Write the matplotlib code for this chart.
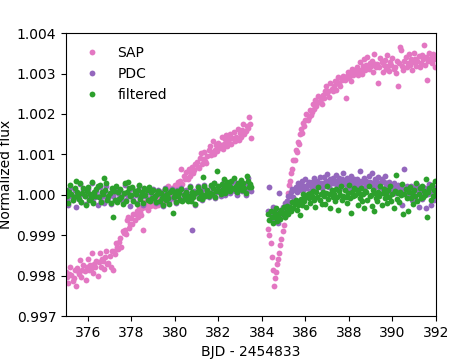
## Light curve: SAP vs PDC vs filtered flux around a data gap
import numpy as np
import matplotlib
matplotlib.use("Agg")
import matplotlib.pyplot as plt

## -----------------------
## Time stamps (BJD - 2454833), before and after the gap
bjd_a = [375.00, 375.05, 375.10, 375.15, 375.20, 375.25, 375.30, 375.35, 375.40, 375.45,
         375.50, 375.55, 375.60, 375.65, 375.70, 375.75, 375.80, 375.85, 375.90, 375.95,
         376.00, 376.05, 376.10, 376.15, 376.20, 376.25, 376.30, 376.35, 376.40, 376.45,
         376.50, 376.55, 376.60, 376.65, 376.70, 376.75, 376.80, 376.85, 376.90, 376.95,
         377.00, 377.05, 377.10, 377.15, 377.20, 377.25, 377.30, 377.35, 377.40, 377.45,
         377.50, 377.55, 377.60, 377.65, 377.70, 377.75, 377.80, 377.85, 377.90, 377.95,
         378.00, 378.05, 378.10, 378.15, 378.20, 378.25, 378.30, 378.35, 378.40, 378.45,
         378.50, 378.55, 378.60, 378.65, 378.70, 378.75, 378.80, 378.85, 378.90, 378.95,
         379.00, 379.05, 379.10, 379.15, 379.20, 379.25, 379.30, 379.35, 379.40, 379.45,
         379.50, 379.55, 379.60, 379.65, 379.70, 379.75, 379.80, 379.85, 379.90, 379.95,
         380.00, 380.05, 380.10, 380.15, 380.20, 380.25, 380.30, 380.35, 380.40, 380.45,
         380.50, 380.55, 380.60, 380.65, 380.70, 380.75, 380.80, 380.85, 380.90, 380.95,
         381.00, 381.05, 381.10, 381.15, 381.20, 381.25, 381.30, 381.35, 381.40, 381.45,
         381.50, 381.55, 381.60, 381.65, 381.70, 381.75, 381.80, 381.85, 381.90, 381.95,
         382.00, 382.05, 382.10, 382.15, 382.20, 382.25, 382.30, 382.35, 382.40, 382.45,
         382.50, 382.55, 382.60, 382.65, 382.70, 382.75, 382.80, 382.85, 382.90, 382.95,
         383.00, 383.05, 383.10, 383.15, 383.20, 383.25, 383.30, 383.35, 383.40, 383.45,
         383.50]
bjd_b = [384.30, 384.35, 384.40, 384.45, 384.50, 384.55, 384.60, 384.65, 384.70, 384.75,
         384.80, 384.85, 384.90, 384.95, 385.00, 385.05, 385.10, 385.15, 385.20, 385.25,
         385.30, 385.35, 385.40, 385.45, 385.50, 385.55, 385.60, 385.65, 385.70, 385.75,
         385.80, 385.85, 385.90, 385.95, 386.00, 386.05, 386.10, 386.15, 386.20, 386.25,
         386.30, 386.35, 386.40, 386.45, 386.50, 386.55, 386.60, 386.65, 386.70, 386.75,
         386.80, 386.85, 386.90, 386.95, 387.00, 387.05, 387.10, 387.15, 387.20, 387.25,
         387.30, 387.35, 387.40, 387.45, 387.50, 387.55, 387.60, 387.65, 387.70, 387.75,
         387.80, 387.85, 387.90, 387.95, 388.00, 388.05, 388.10, 388.15, 388.20, 388.25,
         388.30, 388.35, 388.40, 388.45, 388.50, 388.55, 388.60, 388.65, 388.70, 388.75,
         388.80, 388.85, 388.90, 388.95, 389.00, 389.05, 389.10, 389.15, 389.20, 389.25,
         389.30, 389.35, 389.40, 389.45, 389.50, 389.55, 389.60, 389.65, 389.70, 389.75,
         389.80, 389.85, 389.90, 389.95, 390.00, 390.05, 390.10, 390.15, 390.20, 390.25,
         390.30, 390.35, 390.40, 390.45, 390.50, 390.55, 390.60, 390.65, 390.70, 390.75,
         390.80, 390.85, 390.90, 390.95, 391.00, 391.05, 391.10, 391.15, 391.20, 391.25,
         391.30, 391.35, 391.40, 391.45, 391.50, 391.55, 391.60, 391.65, 391.70, 391.75,
         391.80, 391.85, 391.90, 391.95, 392.00]

## -----------------------
## Flux offsets from 1, in ppm
sap_a = [-1900, -2030, -2190, -1950, -1780, -1980, -2120, -2050, -1850, -2260,
         -1810, -1880, -1960, -1620, -2030, -1850, -1740, -1890, -2100, -1780,
         -1590, -1860, -1740, -1830, -1430, -1930, -1700, -1790, -1640, -2000,
         -1660, -1430, -1780, -1580, -1640, -1840, -1540, -1400, -1710, -1690,
         -1520, -1780, -1390, -1850, -1380, -1460, -1180, -1300, -1350, -1160,
         -1070, -1300, -900, -940, -880, -960, -630, -560, -820, -730,
         -580, -720, -470, -630, -470, -390, -560, -300, -420, -500,
         -330, -880, -190, -300, -240, -380, -120, -270, -50, -240,
         -70, -180, -270, -80, -40, -260, -110, 60, -170, 0,
         90, -60, -190, 130, 210, 60, 20, 180, 100, -100,
         250, 130, 60, 320, 240, 330, 650, 270, 460, 380,
         560, 420, 380, 640, 470, 560, 700, 530, 610, 760,
         800, 700, 660, 900, 1030, 760, 880, 1050, 830, 790,
         960, 1100, 1210, 980, 1050, 1340, 1010, 1120, 1240, 1080,
         1290, 1150, 1220, 1420, 1140, 1260, 1370, 1480, 1200, 1310,
         1380, 1500, 1260, 1410, 1560, 1330, 1440, 1390, 1620, 1350,
         1520, 1420, 1600, 1750, 1500, 1580, 1700, 1660, 1920, 1750,
         1400]
sap_b = [-850, -1000, -1200, -1550, -1850, -2250, -2050, -1900, -1700, -1600,
         -1450, -1250, -1100, -900, -750, -550, -300, -150, 50, 250,
         350, 550, 650, 850, 850, 1100, 1050, 1300, 1250, 1500,
         1620, 1540, 1780, 1700, 1860, 1990, 1840, 1930, 2110, 1980,
         2050, 2240, 2130, 2340, 2190, 2270, 2450, 2320, 2380, 2240,
         2480, 2390, 2570, 2700, 2520, 2560, 2430, 2760, 2620, 2580,
         2700, 2810, 2600, 2780, 2920, 2740, 2680, 2880, 2830, 2950,
         2850, 2400, 2930, 3050, 2890, 2980, 2820, 3120, 2960, 3010,
         3080, 3150, 2960, 3050, 3280, 3100, 3000, 3190, 3350, 3080,
         3200, 3420, 3110, 3250, 3180, 3310, 3050, 3480, 3230, 3170,
         3240, 2760, 3150, 3380, 3290, 3050, 3200, 3330, 3120, 3450,
         3180, 3060, 3280, 3200, 3390, 3110, 3170, 3020, 3300, 2700,
         3250, 3660, 3580, 3190, 3080, 3320, 3400, 3150, 3270, 3480,
         3210, 3350, 3090, 3280, 3520, 3370, 3180, 3300, 3430, 3160,
         3270, 3450, 3360, 3700, 3220, 3400, 2850, 3310, 3520, 3390,
         3250, 3480, 3360, 3150, 3420]

pdc_a = [60, -120, -250, 40, 180, -20, -140, -60, 130, -300,
         30, -30, -110, 260, -170, 10, 120, -40, -220, 70,
         150, -90, 0, -80, 280, -190, 40, -50, 100, -260,
         -40, 190, -150, 50, -20, -210, 90, 230, -100, -70,
         20, -230, 140, -30, 60, -120, 170, -160, 40, -90,
         110, -60, -180, 20, 250, -120, 50, -40, 130, -270,
         -20, 160, -130, 70, 0, -200, 80, 210, -80, -40,
         40, -250, 140, -20, 80, -110, 180, -140, 50, -90,
         150, -70, -20, -200, 10, 120, -170, 60, -60, -280,
         0, 180, -120, 40, -60, -190, 90, 150, -90, -30,
         60, -210, 130, 0, 70, -100, 160, -130, 30, -80,
         110, -50, -130, 10, 220, -140, -870, -30, 90, -240,
         40, 220, -90, 110, 50, -120, 140, 240, -40, 0,
         110, -60, 20, 230, -10, 150, 280, -80, 60, 120,
         170, 60, -40, 230, 120, 330, -10, 180, 260, 80,
         200, 40, 280, 140, 350, 90, 170, 0, 240, 130,
         160, 320, 90, 230, 130, 0, 280, 410, 150, 220,
         100]
pdc_b = [-400, 200, -600, -450, -300, -650, -480, -550, -380, -700,
         50, -420, -500, -300, -380, -200, -260, -150, -30, -180,
         -20, 80, 150, -60, 120, 200, 60, 280, 130, 180,
         250, 330, 130, 220, 380, 170, 260, 310, 90, 230,
         310, 200, 420, 260, 150, 330, 250, 440, 290, 180,
         300, 450, 220, 330, 520, 260, 200, 380, 300, 410,
         280, 350, 500, 230, 320, 420, 170, 300, 380, 540,
         330, 250, 420, 290, 180, 360, 470, 250, 330, 400,
         270, 390, 210, 330, 600, 280, 350, 160, 420, 300,
         350, 220, 460, 310, 250, 530, 290, 170, 380, 260,
         310, 430, 200, 280, 380, 140, 320, 470, 230, 290,
         180, 320, 90, 240, 170, 300, 40, 210, 130, 250,
         120, 60, 200, -250, 150, 650, 80, 220, 0, 130,
         90, 210, -140, 40, 160, -80, 110, 250, -300, 70,
         150, -100, 200, 30, 100, -330, 180, 10, 260, -250,
         60, 190, -120, 120, -20]

filt_a = [120, -40, -210, 60, 250, 10, -130, -60, 180, 330,
          80, 0, -100, 300, -180, 40, 160, -20, -250, 100,
          200, -120, 20, -80, 310, -200, 60, -40, 140, 220,
          -60, 240, -170, 80, 30, 420, 120, 280, -120, -30,
          50, -200, 170, -550, 90, -140, 210, -180, 60, -110,
          140, -50, -220, 40, 290, -150, 80, 320, 160, -20,
          0, 200, -150, 100, 10, -230, 110, 250, -100, -40,
          70, -210, 170, 0, 110, -130, 200, -160, 80, -70,
          130, -90, -40, -190, 30, 100, -160, 40, -70, -240,
          -40, 140, -140, 10, -90, -220, 60, 120, -450, -60,
          30, -190, 100, -40, 40, -120, 150, -150, 0, -100,
          80, -80, -150, -20, 190, -160, 60, -60, 20, -230,
          60, 200, -70, 90, 20, -110, 450, 230, -30, 30,
          130, -20, 50, 240, 20, 160, 300, -50, 90, 600,
          230, 90, 10, 260, 150, 380, 40, 220, 310, 110,
          250, 90, 330, 180, 420, 140, 220, 60, 290, 170,
          200, 360, 130, 280, 170, 40, 470, 330, 190, 260,
          200]
filt_b = [-480, -620, -390, -550, -700, -430, -560, -330, -640, -510,
          -440, -590, -370, -480, -300, -560, -420, -280, -470, -350,
          -300, -410, -180, -330, -220, -120, -380, -260, -150, -500,
          -110, -240, 20, -160, -60, -290, 30, -90, -200, 40,
          -20, 100, -140, -300, 60, -60, 190, -120, 20, -230,
          80, -40, -230, 40, 210, -100, 10, -320, 130, -60,
          30, -160, 150, -50, -370, 90, 0, 220, -130, -20,
          110, -60, -200, 40, 250, -90, -450, 60, -30, 170,
          -10, 130, -250, 50, -90, 180, -160, 20, -330, 90,
          60, -120, 210, -40, 0, -280, 130, -410, 50, -80,
          -160, 80, -20, 220, -250, 40, 150, -80, 10, -200,
          120, -60, 230, -150, 30, -330, 90, 500, -110, 40,
          -180, 70, -10, 260, -480, 20, 140, -90, -400, 60,
          190, -70, 40, -220, 110, -30, 300, -150, 20, 170,
          -90, 210, -60, 100, 0, 380, -550, 60, 180, -120,
          240, -40, 110, 330, 20]

## -----------------------
## Combine segments and convert ppm -> normalized flux
bjd = np.array(bjd_a + bjd_b)
sap = 1 + np.array(sap_a + sap_b) * 1e-6
pdc = 1 + np.array(pdc_a + pdc_b) * 1e-6
filt = 1 + np.array(filt_a + filt_b) * 1e-6

## -----------------------
## Plot
fig = plt.figure(figsize=(4.49, 3.6), dpi=100)
ax = fig.add_axes([0.147, 0.122, 0.824, 0.786])

ax.plot(bjd, sap, 'o', color='tab:pink', ms=4.2, mew=0, label='SAP')
ax.plot(bjd, pdc, 'o', color='tab:purple', ms=4.2, mew=0, label='PDC')
ax.plot(bjd, filt, 'o', color='tab:green', ms=4.2, mew=0, label='filtered')

ax.set_xlim(375, 392)
ax.set_ylim(0.997, 1.004)
ax.set_xticks(np.arange(376, 393, 2))
ax.set_yticks([0.997, 0.998, 0.999, 1.000, 1.001, 1.002, 1.003, 1.004])
ax.yaxis.set_major_formatter(matplotlib.ticker.FormatStrFormatter('%.3f'))
ax.set_xlabel('BJD - 2454833')
ax.set_ylabel('Normalized flux')
ax.yaxis.set_label_coords(-0.142, 0.5)
ax.legend(loc='upper left', frameon=False, numpoints=1)

fig.savefig('out.png', dpi=100)
